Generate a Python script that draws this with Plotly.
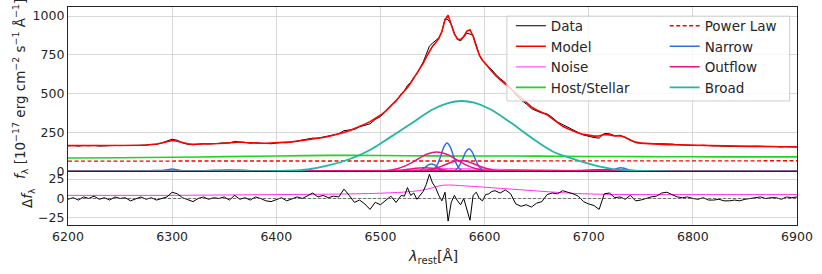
import plotly.graph_objects as go

# ---------------- data ----------------
# common wavelength sampling for data / model / residual
lam_a = list(range(6200, 6521, 5))
lam_b = list(range(6523, 6611, 3))
lam_c = list(range(6615, 6901, 5))
lam = lam_a + lam_b + lam_c

model_a = [166,166,165,165,165,164,164,164,165,165,
           166,166,167,167,168,170,172,176,183,193,
           199,194,183,177,175,175,176,177,178,179,
           181,185,189,189,186,183,182,181,181,182,
           183,185,187,190,194,198,202,207,212,218,
           225,232,240,250,262,275,289,304,320,339,
           361,388,420,455,495]
model_b = [515,540,568,598,628,660,695,735,775,805,
           828,855,900,975,1005,950,885,852,848,868,
           903,912,870,805,748,715,690,665,645,620]
model_c = [590,560,530,500,470,442,415,395,380,365,
           340,312,290,275,260,247,238,232,227,228,
           238,235,228,230,220,200,188,182,179,177,
           175,174,172,171,170,169,168,168,167,167,
           166,166,165,164,164,163,163,162,161,161,
           160,160,159,159,158,158,157,157]
model = model_a + model_b + model_c

resid_a = [-1,1,-2,2,0,3,-1,1,-2,2,
           0,1,-3,0,2,-1,1,-2,0,2,
           8,6,1,-2,-4,0,2,-1,1,0,
           2,-2,4,-1,1,-2,2,0,-3,-4,
           -1,1,-3,0,2,0,3,7,2,4,
           1,3,2,12,4,-5,-2,-7,-14,-5,
           -8,-3,3,-5,4]
resid_b = [3,14,4,7,-1,4,9,18,31,20,
           14,4,-3,8,-29,-5,4,-3,-8,0,
           -14,-28,4,8,0,-3,5,6,9,10]
resid_c = [7,11,6,-7,-10,-8,-11,-6,-4,5,
           7,6,10,8,6,3,-4,-7,-9,-14,
           6,7,1,2,-1,4,-3,-2,0,2,
           3,7,8,5,2,1,2,0,-1,1,
           -2,-2,-1,-3,-3,-2,-3,-1,0,1,
           2,0,1,1,-1,2,1,2]
resid = resid_a + resid_b + resid_c
assert len(lam) == len(model) == len(resid)
data = [m + r for m, r in zip(model, resid)]

noise_lam = [6200,6250,6300,6350,6400,6450,6500,6530,6545,6560,6583,6615,6647,6679,6710,6750,6800,6850,6900]
noise_val = [4,4,4,4.5,5,5.5,6.8,9,12,17,16,13,10,7,5.5,5,5,5,5]

host_lam = [6200,6250,6300,6350,6400,6450,6500,6550,6600,6650,6700,6750,6800,6850,6900]
host_val = [86,88,91,95,99,103,102,100,99,98,96,95,94,93,93]

pl_lam = [6200, 6550, 6900]
pl_val = [66, 67, 68]

broad_lam = [6200,6380,6410,6430,6450,6470,6490,6510,6530,6550,6565,6578,6590,6605,
             6625,6645,6665,6685,6705,6725,6745,6770,6800,6900]
broad_val = [0,1,4,12,38,78,138,222,310,398,440,453,442,401,
             314,216,130,80,40,13,5,1,0,0]

# narrow lines (each: wavelengths, fluxes)
n_oi1_lam = [6200,6285,6288,6291,6294,6297,6300,6303,6306,6309,6312,6315,6900]
n_oi1_val = [0,0.4,1.4,3.9,8.3,12.9,15,12.9,8.3,3.9,1.4,0.4,0]
n_oi2_lam = [6200,6349,6352,6355,6358,6361,6364,6367,6370,6373,6376,6379,6900]
n_oi2_val = [0,0.1,0.5,1.3,2.8,4.3,5,4.3,2.8,1.3,0.5,0.1,0]
n_nii1_lam = [6200,6534,6537,6540,6543,6546,6549,6552,6555,6558,6561,6564,6900]
n_nii1_val = [0,1.2,4.5,12.6,26.4,41.4,48,41.4,26.4,12.6,4.5,1.2,0]
n_ha_lam = [6200,6549,6552,6555,6558,6561,6564,6567,6570,6573,6576,6579,6900]
n_ha_val = [0,4.4,17,48,101,158,183,158,101,48,17,4.4,0]
n_nii2_lam = [6200,6570,6573,6576,6579,6582,6585,6588,6591,6594,6597,6600,6900]
n_nii2_val = [0,3.5,13.6,38,80,126,146,126,80,38,13.6,3.5,0]
n_sii1_lam = [6200,6702,6705,6708,6711,6714,6717,6720,6723,6726,6729,6732,6900]
n_sii1_val = [0,0.3,1.1,3.1,6.6,10.3,12,10.3,6.6,3.1,1.1,0.3,0]
n_sii2_lam = [6200,6716,6719,6722,6725,6728,6731,6734,6737,6740,6743,6746,6900]
n_sii2_val = [0,0.6,2.2,6.3,13.2,20.7,24,20.7,13.2,6.3,2.2,0.6,0]

# outflow components
o_ha_lam = [6200,6491,6500,6509,6518,6527,6536,6545,6554,6563,6572,6581,6590,6599,6608,6617,6900]
o_ha_val = [0,0.5,2.3,7.6,20.8,45.5,79.8,111.8,125,111.8,79.8,45.5,20.8,7.6,2.3,0.5,0]
o_nii2_lam = [6200,6521,6529,6537,6545,6553,6561,6569,6577,6585,6593,6601,6609,6617,6625,6633,6900]
o_nii2_val = [0,0,0.4,2,7.2,19.5,39.6,60.7,70,60.7,39.6,19.5,7.2,2,0.4,0,0]
o_nii1_lam = [6200,6486,6494,6502,6510,6518,6526,6534,6542,6550,6558,6566,6574,6582,6590,6598,6900]
o_nii1_val = [0,0,0.1,0.7,2.4,6.4,13,19.9,23,19.9,13,6.4,2.4,0.7,0.1,0,0]
o_sii1_lam = [6200,6661,6669,6677,6685,6693,6701,6709,6717,6725,6733,6741,6749,6757,6900]
o_sii1_val = [0,0.1,0.4,1.4,3.3,6.1,8.8,10,8.8,6.1,3.3,1.4,0.4,0.1,0]
o_sii2_lam = [6200,6675,6683,6691,6699,6707,6715,6723,6731,6739,6747,6755,6763,6771,6900]
o_sii2_val = [0,0.1,0.4,1.4,3.3,6.1,8.8,10,8.8,6.1,3.3,1.4,0.4,0.1,0]
o_oi1_lam = [6200,6238,6247,6256,6265,6274,6283,6292,6301,6310,6319,6328,6337,6346,6900]
o_oi1_val = [0,0.1,0.4,1.2,2.2,3.8,5.4,6,5.4,3.8,2.2,1.2,0.4,0.1,0]
o_oi2_lam = [6200,6300,6309,6318,6327,6336,6345,6354,6363,6372,6381,6390,6399,6408,6900]
o_oi2_val = [0,0.2,0.5,1.5,3.3,5.7,8,9,8,5.7,3.3,1.5,0.5,0.2,0]

# ---------------- styling ----------------
FONT = "DejaVu Sans"
C_DATA = "#000000"
C_MODEL = "#ff0000"
C_NOISE = "#ff33ee"
C_HOST = "#22d422"
C_PL = "#ff0000"
C_NARROW = "#2f6fe6"
C_OUT = "#eb1482"
C_BROAD = "#22b5a8"

fig = go.Figure()

def add(x, y, color, width, name=None, legend=None, rank=None, show=False,
        axis=("x", "y"), dash=None, shape="linear"):
    fig.add_trace(go.Scatter(
        x=x, y=y, mode="lines", name=name, showlegend=show,
        legend=legend, legendrank=rank,
        xaxis=axis[0], yaxis=axis[1],
        line=dict(color=color, width=width, dash=dash, shape=shape),
        hoverinfo="skip"))

# top panel
add(lam, data, C_DATA, 1.0, "Data", "legend", 1, True)
add(lam, model, C_MODEL, 1.6, "Model", "legend", 2, True)
add(noise_lam, noise_val, C_NOISE, 1.0, "Noise", "legend", 3, True, shape="spline")
add(host_lam, host_val, C_HOST, 1.6, "Host/Stellar", "legend", 4, True, shape="spline")
add(pl_lam, pl_val, C_PL, 1.4, "Power Law", "legend2", 5, True, dash="4px,2.5px")

narrow = [(n_oi1_lam, n_oi1_val), (n_oi2_lam, n_oi2_val), (n_nii1_lam, n_nii1_val),
          (n_ha_lam, n_ha_val), (n_nii2_lam, n_nii2_val), (n_sii1_lam, n_sii1_val),
          (n_sii2_lam, n_sii2_val)]
for i, (x, y) in enumerate(narrow):
    add(x, y, C_NARROW, 1.5, "Narrow", "legend2", 6, i == 0, shape="spline")

outflow = [(o_oi1_lam, o_oi1_val), (o_oi2_lam, o_oi2_val), (o_nii1_lam, o_nii1_val),
           (o_ha_lam, o_ha_val), (o_nii2_lam, o_nii2_val), (o_sii1_lam, o_sii1_val),
           (o_sii2_lam, o_sii2_val)]
for i, (x, y) in enumerate(outflow):
    add(x, y, C_OUT, 1.5, "Outflow", "legend2", 7, i == 0, shape="spline")

add(broad_lam, broad_val, C_BROAD, 1.8, "Broad", "legend2", 8, True, shape="spline")

# bottom panel
add(noise_lam, noise_val, C_NOISE, 1.0, axis=("x2", "y2"), shape="spline")
add(lam, resid, C_DATA, 1.0, axis=("x2", "y2"))

GRID = "#d9d9d9"
SPINE = "#262626"
tickfont = dict(family=FONT, size=12.5, color="#262626")

xcommon = dict(range=[6200, 6900], tick0=6200, dtick=100, showgrid=True,
               gridcolor=GRID, gridwidth=1, showline=True, linecolor=SPINE,
               linewidth=1.2, mirror=True, ticks="", zeroline=False, tickfont=tickfont)

fig.update_layout(
    width=822, height=274,
    margin=dict(l=68, r=25, t=7, b=49),
    paper_bgcolor="white", plot_bgcolor="white",
    font=dict(family=FONT, color="#262626"),
    xaxis=dict(**xcommon, anchor="y", showticklabels=False),
    xaxis2=dict(**xcommon, anchor="y2", matches="x", showticklabels=True),
    yaxis=dict(domain=[0.246, 1], range=[0, 1058], tickvals=[0, 250, 500, 750, 1000],
               showgrid=True, gridcolor=GRID, showline=True, linecolor=SPINE,
               linewidth=1.2, mirror=True, ticks="", zeroline=False, tickfont=tickfont,
               anchor="x"),
    yaxis2=dict(domain=[0, 0.245], range=[-34, 34.5], tickvals=[-25, 0, 25],
                showgrid=True, gridcolor=GRID, showline=True, linecolor=SPINE,
                linewidth=1.2, mirror=True, ticks="", zeroline=False, tickfont=tickfont,
                anchor="x2"),
    legend=dict(x=0.6075, y=0.984, xanchor="left", yanchor="top",
                bgcolor="rgba(0,0,0,0)", borderwidth=0,
                font=dict(family=FONT, size=13.5, color="#262626")),
    legend2=dict(x=0.8185, y=0.984, xanchor="left", yanchor="top",
                 bgcolor="rgba(0,0,0,0)", borderwidth=0,
                 font=dict(family=FONT, size=13.5, color="#262626")),
    shapes=[
        dict(type="rect", xref="paper", yref="paper", x0=0.602, x1=0.990,
             y0=0.569, y1=0.958, fillcolor="rgba(255,255,255,0.8)",
             line=dict(color="#cccccc", width=1), layer="above"),
        dict(type="line", xref="x2 domain", yref="y2", x0=0, x1=1, y0=0, y1=0,
             line=dict(color="#555555", width=0.8, dash="3px,2px"), layer="above"),
    ],
    annotations=[
        dict(text="<i>f</i><sub>λ</sub> [10<sup>−17</sup> erg cm<sup>−2</sup> s<sup>−1</sup> Å<sup>−1</sup>]",
             xref="paper", yref="paper", x=(20 - 68) / 729, y=(225 - 89) / 218,
             xanchor="center", yanchor="middle", textangle=-90, showarrow=False,
             font=dict(family=FONT, size=13.5, color="#262626")),
        dict(text="Δ<i>f</i><sub>λ</sub>",
             xref="paper", yref="paper", x=(28 - 68) / 729, y=(225 - 198) / 218,
             xanchor="center", yanchor="middle", textangle=-90, showarrow=False,
             font=dict(family=FONT, size=13.5, color="#262626")),
        dict(text="<i>λ</i><sub>rest</sub>[Å]",
             xref="paper", yref="paper", x=0.5, y=(225 - 257) / 218,
             xanchor="center", yanchor="middle", showarrow=False,
             font=dict(family=FONT, size=14.5, color="#262626")),
    ],
)

fig.write_html("out.html", config={"displayModeBar": False},
               post_script="document.body.style.margin='0';document.body.style.overflow='hidden';")
